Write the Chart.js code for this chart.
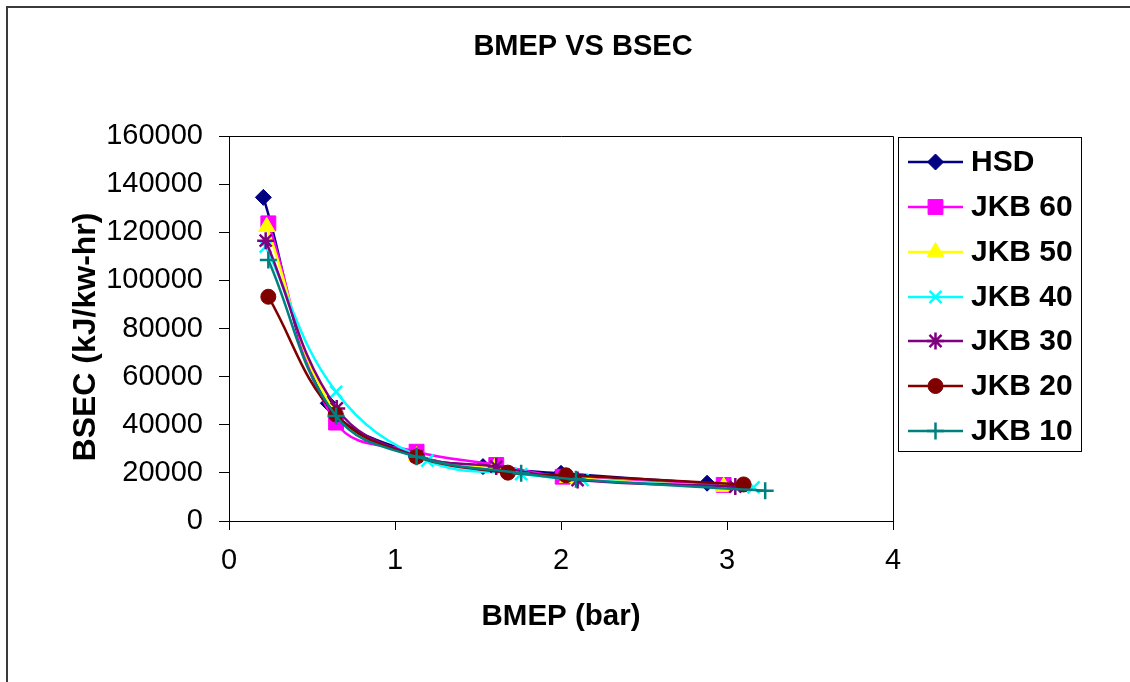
<!DOCTYPE html>
<html>
<head>
<meta charset="utf-8">
<script src="https://cdn.jsdelivr.net/npm/chart.js@4.4.1/dist/chart.umd.min.js"></script>
<style>
html,body{margin:0;padding:0;background:#fff;}
canvas{display:block;}
</style>
</head>
<body>
<canvas id="c" width="1130" height="682"></canvas>
<script>
// ---- data ----
const seriesNames = ["HSD", "JKB 60", "JKB 50", "JKB 40", "JKB 30", "JKB 20", "JKB 10"];
const hsdX   = [0.207, 0.598, 1.13, 1.53, 2.00, 2.88];
const hsdY   = [134500, 48900, 27500, 22600, 19800, 15700];
const jkb60X = [0.237, 0.645, 1.13, 1.61, 2.01, 2.98];
const jkb60Y = [123700, 40900, 28800, 23300, 18400, 15000];
const jkb50X = [0.227, 0.640, 1.13, 1.60, 2.04, 2.98];
const jkb50Y = [122300, 45000, 27000, 22000, 18000, 14300];
const jkb40X = [0.221, 0.645, 1.195, 1.76, 2.13, 3.16];
const jkb40Y = [114000, 53700, 25100, 19500, 17000, 14000];
const jkb30X = [0.221, 0.649, 1.13, 1.61, 2.10, 3.05];
const jkb30Y = [116500, 46800, 27000, 22600, 17000, 14300];
const jkb20X = [0.237, 0.643, 1.13, 1.68, 2.03, 3.10];
const jkb20Y = [93200, 44300, 26700, 20100, 19000, 15200];
const jkb10X = [0.237, 0.645, 1.13, 1.76, 2.09, 3.23];
const jkb10Y = [108500, 43600, 26700, 19800, 17300, 12600];
const xTicks = [0, 1, 2, 3, 4];
const yTicks = [0, 20000, 40000, 60000, 80000, 100000, 120000, 140000, 160000];

const allX = [hsdX, jkb60X, jkb50X, jkb40X, jkb30X, jkb20X, jkb10X];
const allY = [hsdY, jkb60Y, jkb50Y, jkb40Y, jkb30Y, jkb20Y, jkb10Y];

// ---- styles ----
const colors = ["#000080", "#FF00FF", "#FFFF00", "#00FFFF", "#800080", "#800000", "#008080"];
const pStyles = ["rectRot", "rect", "triangle", "crossRot", "star", "circle", "cross"];
const pRadius = [8, 10.5, 9.5, 8.5, 8.5, 7.5, 8.5];
const FONT = '"Liberation Sans", Arial, sans-serif';
const isLineMarker = s => (s === "cross" || s === "crossRot" || s === "star");

const datasets = seriesNames.map((name, i) => ({
  label: name,
  data: allX[i].map((x, k) => ({x: x, y: allY[i][k]})),
  showLine: true,
  borderColor: colors[i],
  backgroundColor: colors[i],
  borderWidth: 2.5,
  tension: 0.4,
  pointStyle: pStyles[i],
  pointRadius: pRadius[i],
  pointBorderColor: colors[i],
  pointBackgroundColor: colors[i],
  pointBorderWidth: isLineMarker(pStyles[i]) ? 2.5 : 1,
  order: seriesNames.length - i
}));

const LEG_Y = [162, 207, 252, 297, 341, 386, 431];

const decor = {
  id: 'decor',
  beforeDraw(chart) {
    const ctx = chart.ctx;
    ctx.save();
    ctx.fillStyle = '#fff';
    ctx.fillRect(0, 0, chart.width, chart.height);
    ctx.strokeStyle = '#3a3a3a';
    ctx.lineWidth = 2;
    ctx.beginPath();
    ctx.moveTo(7, 683);
    ctx.lineTo(7, 7);
    ctx.lineTo(1131, 7);
    ctx.stroke();
    ctx.restore();
  },
  afterDraw(chart) {
    const ctx = chart.ctx;
    const a = chart.chartArea;
    ctx.save();
    // plot border top/right
    ctx.strokeStyle = '#000';
    ctx.lineWidth = 1;
    ctx.beginPath();
    ctx.moveTo(a.left, Math.round(a.top) + 0.5);
    ctx.lineTo(Math.round(a.right) + 0.5, Math.round(a.top) + 0.5);
    ctx.lineTo(Math.round(a.right) + 0.5, a.bottom);
    ctx.stroke();
    // title
    ctx.fillStyle = '#000';
    ctx.textAlign = 'center';
    ctx.textBaseline = 'middle';
    ctx.font = 'bold 29px ' + FONT;
    ctx.fillText('BMEP VS BSEC', 583, 47);
    // axis titles
    ctx.font = 'bold 29.5px ' + FONT;
    ctx.fillText('BMEP (bar)', 561, 617);
    ctx.save();
    ctx.translate(86, 337);
    ctx.rotate(-Math.PI / 2);
    ctx.font = 'bold 32px ' + FONT;
    ctx.fillText('BSEC (kJ/kw-hr)', 0, 0);
    ctx.restore();
    // legend
    ctx.strokeStyle = '#000';
    ctx.lineWidth = 1;
    ctx.strokeRect(898.5, 137.5, 183, 314);
    ctx.textAlign = 'left';
    ctx.font = 'bold 30px ' + FONT;
    chart.data.datasets.forEach((ds, i) => {
      const y = LEG_Y[i];
      ctx.strokeStyle = ds.borderColor;
      ctx.lineWidth = 2.5;
      ctx.beginPath();
      ctx.moveTo(908, y);
      ctx.lineTo(963, y);
      ctx.stroke();
      ctx.fillStyle = ds.pointBackgroundColor;
      ctx.strokeStyle = ds.pointBorderColor;
      ctx.lineWidth = ds.pointBorderWidth;
      Chart.helpers.drawPoint(ctx, {
        pointStyle: ds.pointStyle,
        radius: ds.pointRadius,
        rotation: 0,
        borderWidth: ds.pointBorderWidth
      }, 935.5, y);
      ctx.fillStyle = '#000';
      ctx.fillText(ds.label, 971, y + 1);
    });
    ctx.restore();
  }
};

new Chart(document.getElementById('c'), {
  type: 'scatter',
  data: { datasets: datasets },
  options: {
    responsive: false,
    animation: false,
    devicePixelRatio: 1,
    layout: { padding: { top: 136, right: 237, left: 0, bottom: 0 } },
    plugins: {
      legend: { display: false },
      title: { display: false },
      tooltip: { enabled: false }
    },
    scales: {
      x: {
        type: 'linear',
        min: 0, max: 4,
        afterFit(s) { s.height = 161; },
        afterBuildTicks(s) { s.ticks = xTicks.map(v => ({value: v})); },
        ticks: {
          color: '#000',
          font: { family: FONT, size: 29 },
          padding: 14,
          maxRotation: 0
        },
        grid: { drawOnChartArea: false, drawTicks: true, tickLength: 9, color: '#000' },
        border: { display: true, color: '#000', width: 1 }
      },
      y: {
        type: 'linear',
        min: 0, max: 160000,
        afterFit(s) { s.width = 229; },
        afterBuildTicks(s) { s.ticks = yTicks.map(v => ({value: v})); },
        ticks: {
          color: '#000',
          font: { family: FONT, size: 29 },
          padding: 16,
          callback: v => String(v)
        },
        grid: { drawOnChartArea: false, drawTicks: true, tickLength: 10, color: '#000' },
        border: { display: true, color: '#000', width: 1 }
      }
    }
  },
  plugins: [decor]
});
</script>
</body>
</html>
